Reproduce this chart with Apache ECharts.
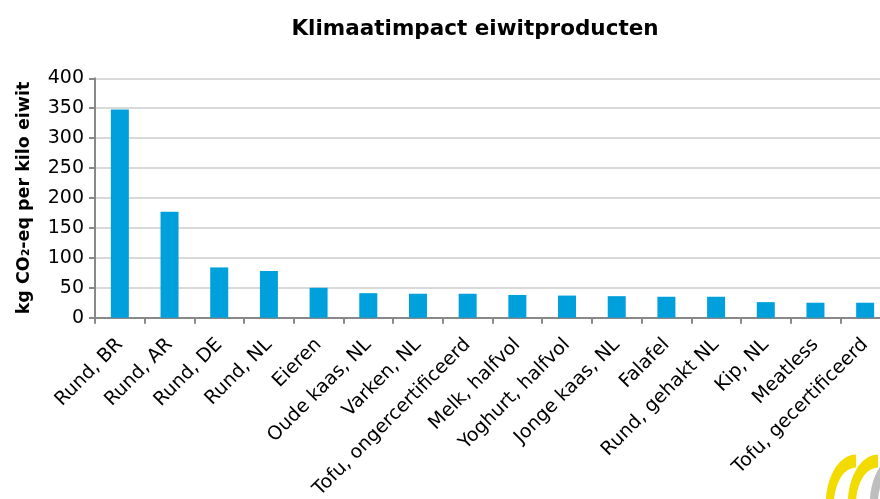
<!DOCTYPE html>
<html><head><meta charset="utf-8">
<script src="https://cdn.jsdelivr.net/npm/echarts@6/dist/echarts.min.js"></script>
<style>html,body{margin:0;padding:0;background:#fff}#c{width:880px;height:499px}</style>
</head><body><div id="c"></div>
<script>
const title = 'Klimaatimpact eiwitproducten';
const yName = 'kg CO₂-eq per kilo eiwit';
const categories = ['Rund, BR','Rund, AR','Rund, DE','Rund, NL','Eieren','Oude kaas, NL','Varken, NL','Tofu, ongercertificeerd','Melk, halfvol','Yoghurt, halfvol','Jonge kaas, NL','Falafel','Rund, gehakt NL','Kip, NL','Meatless','Tofu, gecertificeerd'];
const values = [348, 177, 84, 78, 50, 41, 40, 40, 38, 37, 36, 35, 35, 26, 25, 25];
const yTicks = [0, 50, 100, 150, 200, 250, 300, 350, 400];

const font = 'DejaVu Sans';
const chart = echarts.init(document.getElementById('c'), null, {renderer:'canvas'});
const ring = (x, color) => ({type: 'arc', x: x, y: 503, scaleX: 0.62,
  shape: {cx: 0, cy: 0, r: 42, startAngle: Math.PI*0.95, endAngle: Math.PI*1.5},
  style: {stroke: color, lineWidth: 13, fill: null}});
chart.setOption({
  animation: false,
  backgroundColor: '#fff',
  title: {text: title, left: 470, top: 13, textAlign: 'center',
    textStyle: {fontFamily: font, fontSize: 21.5, fontWeight: 'bold', color: '#000'}},
  grid: {left: 95, width: 795, top: 78.3, height: 239.4, containLabel: false, outerBoundsMode: 'none'},
  xAxis: {type: 'category', data: categories,
    axisLine: {lineStyle: {color: '#888', width: 2}},
    axisTick: {show: true, length: 6, lineStyle: {color: '#888', width: 2}},
    axisLabel: {rotate: 45, interval: 0, margin: 24, fontFamily: font, fontSize: 19, color: '#000'}},
  yAxis: {type: 'value', min: yTicks[0], max: yTicks[yTicks.length-1], interval: 50,
    name: yName, nameLocation: 'middle', nameGap: 62, nameRotate: 90,
    nameTextStyle: {fontFamily: font, fontSize: 17.5, fontWeight: 'bold', color: '#000'},
    axisLine: {show: true, lineStyle: {color: '#888', width: 2}},
    axisTick: {show: true, length: 6, lineStyle: {color: '#888', width: 2}},
    axisLabel: {margin: 11, fontFamily: font, fontSize: 19, color: '#000'},
    splitLine: {lineStyle: {color: '#d9d9d9', width: 2}}},
  series: [{type: 'bar', data: values, barWidth: 18,
    itemStyle: {color: '#00A0DC'}}],
  graphic: [ring(856, '#F2DC00'), ring(878, '#F2DC00'), ring(900, '#BEBEBE')]
});
</script></body></html>
